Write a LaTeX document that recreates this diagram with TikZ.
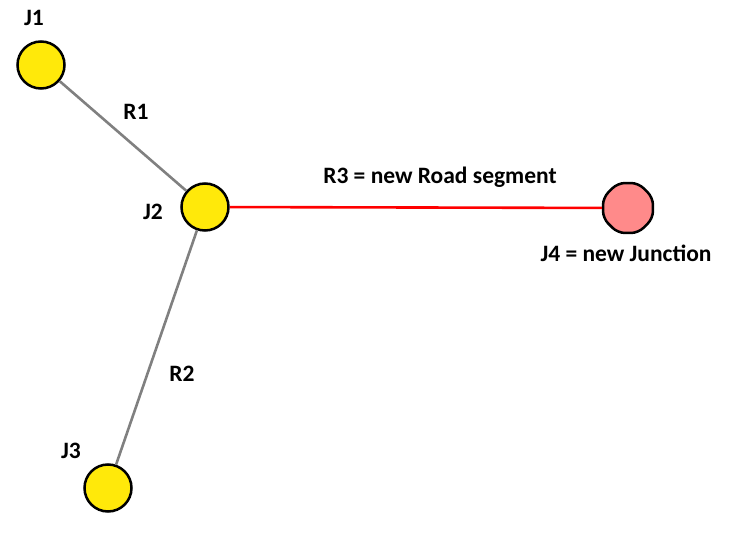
\documentclass[tikz,border=0pt]{standalone}
\usepackage{fontspec}
\setmainfont{Carlito}
\usetikzlibrary{shapes.geometric, positioning}
\definecolor{jyellow}{HTML}{FFE90A}
\definecolor{jpink}{HTML}{FF8A8A}
\definecolor{roadgray}{HTML}{808080}
\definecolor{roadred}{HTML}{FF0000}
\tikzset{
  junction/.style={circle, draw=black, line width=2.5pt, fill=jyellow, minimum size=47pt, inner sep=0pt},
  newjunction/.style={regular polygon, regular polygon sides=8, rounded corners=7pt, draw=black, line width=2.5pt, fill=jpink, minimum size=54pt, inner sep=0pt},
  road/.style={draw=roadgray, line width=2.6pt},
  newroad/.style={draw=roadred, line width=2.6pt},
  lbl/.style={font=\fontsize{23.5}{26}\selectfont\bfseries, inner sep=0pt}
}
\begin{document}
\begin{tikzpicture}[x=1pt, y=-1pt]
    \useasboundingbox (0,0) rectangle (741,534);
    % junctions
    \node[junction] (j1) at (41,65) {};
    \node[junction] (j2) at (205,207) {};
    \node[junction] (j3) at (108,488) {};
    \node[newjunction] (j4) at (628,208) {};
    % roads
    \draw[road] (j1) -- (j2);
    \draw[road] (j2) -- (j3);
    \draw[newroad] (j2) -- (j4);
    % labels
    \node[lbl] (lj1) at (34,18) {J1};
    \node[lbl] (lj2) at (153,212) {J2};
    \node[lbl] (lj3) at (71,451) {J3};
    \node[lbl] (lj4) at (626,253) {J4 = new Junction};
    \node[lbl] (lr1) at (136,112) {R1};
    \node[lbl] (lr2) at (182,374) {R2};
    \node[lbl] (lr3) at (440,177) {R3 = new Road segment};
\end{tikzpicture}
\end{document}
